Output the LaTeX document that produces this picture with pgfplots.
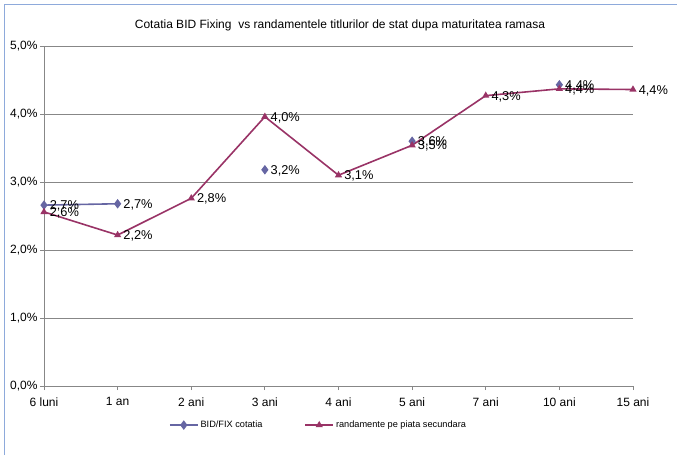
\documentclass[border=0pt]{standalone}
\usepackage{pgfplots}
\pgfplotsset{compat=1.18}
\usepackage{fontspec}
\setmainfont{Liberation Sans}
\definecolor{bidfix}{HTML}{6666A3}
\definecolor{rand}{HTML}{993366}
\definecolor{gridc}{HTML}{878787}
\definecolor{framec}{HTML}{8EAADB}

\begin{document}
\begin{tikzpicture}[x=1pt,y=1pt]
\path[use as bounding box] (0,0) rectangle (677,455);
\draw[framec, line width=0.8pt] (4.5,0) -- (4.5,451) -- (677,451);
\node[font=\fontsize{12}{14}\selectfont] at (340,430)
  {Cotatia BID Fixing\ \ vs randamentele titlurilor de stat dupa maturitatea ramasa};
\begin{axis}[
  at={(44pt,69pt)}, anchor=south west,
  scale only axis, width=589pt, height=340pt,
  xmin=0, xmax=8, ymin=0, ymax=5,
  xtick={0,...,8}, ytick={0,...,5},
  xticklabels={6 luni,1 an,2 ani,3 ani,4 ani,5 ani,7 ani,10 ani,15 ani},
  axis lines*=left,
  axis line style={gridc, line width=0.8pt},
  ymajorgrids,
  major grid style={gridc, line width=0.8pt},
  tick align=outside, major tick length=4pt,
  tick style={gridc, line width=0.8pt},
  /pgf/number format/fixed,
  /pgf/number format/fixed zerofill,
  /pgf/number format/precision=1,
  /pgf/number format/use comma,
  /pgf/number format/assume math mode=true,
  yticklabel={\pgfmathprintnumber{\tick}\%},
  ticklabel style={font=\fontsize{12}{14}\selectfont, text=black},
  yticklabel style={xshift=1pt},
  xticklabel style={yshift=-4pt},
  unbounded coords=jump,
  nodes near coords={\pgfmathprintnumber{\pgfplotspointmeta}\%},
  nodes near coords style={anchor=west, font=\fontsize{12.8}{14}\selectfont,
    text=black, inner sep=0pt, xshift=5pt, yshift=-1pt},
  legend style={at={(0.466,-0.115)}, anchor=center, draw=none,
    legend columns=2, font=\fontsize{9.2}{11}\selectfont,
    /tikz/every even column/.append style={column sep=40pt}},
  legend image code/.code={
    \draw[mark repeat=2, mark phase=2, #1]
      plot coordinates {(0pt,0pt) (14pt,0pt) (28pt,0pt)};},
]
\addplot[bidfix, line width=1.6pt, mark=diamond*, mark size=3.5pt]
  coordinates {(0,2.66) (1,2.68) (2,nan) (3,3.18) (4,nan) (5,3.6) (6,nan) (7,4.43) (8,nan)};
\addplot[rand, line width=1.6pt, mark=triangle*, mark size=2.6pt]
  coordinates {(0,2.56) (1,2.22) (2,2.76) (3,3.96) (4,3.1) (5,3.54) (6,4.27) (7,4.37) (8,4.36)};
\legend{BID/FIX cotatia, randamente pe piata secundara}
\end{axis}
\end{tikzpicture}
\end{document}
